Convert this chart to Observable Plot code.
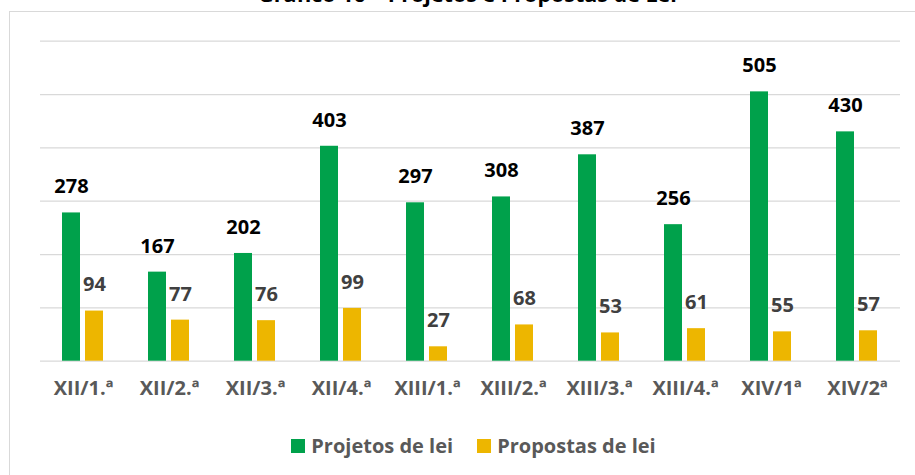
<!DOCTYPE html>
<html>
<head>
<meta charset="utf-8">
<script src="https://cdn.jsdelivr.net/npm/d3@7"></script>
<script src="https://cdn.jsdelivr.net/npm/@observablehq/plot@0.6"></script>
<style>
  html, body { margin: 0; padding: 0; background: #fff; }
  #wrap { position: relative; width: 915px; height: 475px; overflow: hidden; font-family: "Open Sans", sans-serif; }
  #title { position: absolute; left: 10px; width: 915px; top: -21px; text-align: center; font-weight: bold; font-size: 21.5px; color: #000; white-space: nowrap; }
  #box { position: absolute; left: 9px; top: 11px; width: 1000px; height: 1000px; border: 1.5px solid #d9d9d9; box-sizing: border-box; }
  #chart { position: absolute; left: 0; top: 0; }
  #legend { position: absolute; top: 432px; left: 0; width: 915px; display: flex; justify-content: center; gap: 0; font-weight: bold; font-size: 20px; color: #595959; padding-left: 32px; box-sizing: border-box; }
  .item { display: flex; align-items: center; margin: 0 12px; }
  .sw { width: 14px; height: 14px; margin-right: 6px; }
</style>
</head>
<body>
<div id="wrap">
  <div id="box"></div>
  <div id="title">Gráfico 16 – Projetos e Propostas de Lei</div>
  <div id="chart"></div>
  <div id="legend"></div>
</div>
<script>
const categories = ["XII/1.ª","XII/2.ª","XII/3.ª","XII/4.ª","XIII/1.ª","XIII/2.ª","XIII/3.ª","XIII/4.ª","XIV/1ª","XIV/2ª"];
const seriesNames = ["Projetos de lei","Propostas de lei"];
const projetos = [278,167,202,403,297,308,387,256,505,430];
const propostas = [94,77,76,99,27,68,53,61,55,57];
const gridTicks = [0,100,200,300,400,500,600];
const colors = ["#00A14B","#EDB600"];
const labelColors = ["#000000","#404040"];

const data = [];
categories.forEach((c, i) => {
  data.push({cat: c, series: seriesNames[0], value: projetos[i]});
  data.push({cat: c, series: seriesNames[1], value: propostas[i]});
});

const plot = Plot.plot({
  width: 915,
  height: 410,
  marginLeft: 38,
  marginRight: 14,
  marginTop: 40.7,
  marginBottom: 49.3,
  style: {fontFamily: "Open Sans", fontSize: "20px", fontWeight: "bold", color: "#595959", background: "transparent"},
  fx: {domain: categories, paddingInner: 0, paddingOuter: 0, axis: "bottom", tickSize: 0, tickPadding: 20, label: null},
  x: {domain: seriesNames, paddingInner: 0.208, paddingOuter: 0.9, axis: null},
  y: {domain: [0, 600], axis: null},
  color: {domain: seriesNames, range: colors},
  marks: [
    Plot.ruleY(gridTicks, {stroke: "#d9d9d9", strokeWidth: 1.3}),
    Plot.barY(data, {fx: "cat", x: "series", y: "value", fill: "series"}),
    Plot.text(data, {fx: "cat", x: "series", y: "value", text: d => String(d.value), dy: -26,
      fill: d => labelColors[seriesNames.indexOf(d.series)], fontSize: 20, fontWeight: "bold"})
  ]
});
document.getElementById("chart").appendChild(plot);

const legend = document.getElementById("legend");
seriesNames.forEach((s, i) => {
  const it = document.createElement("div");
  it.className = "item";
  const sw = document.createElement("div");
  sw.className = "sw";
  sw.style.background = colors[i];
  const t = document.createElement("span");
  t.textContent = s;
  it.appendChild(sw); it.appendChild(t);
  legend.appendChild(it);
});
</script>
</body>
</html>
